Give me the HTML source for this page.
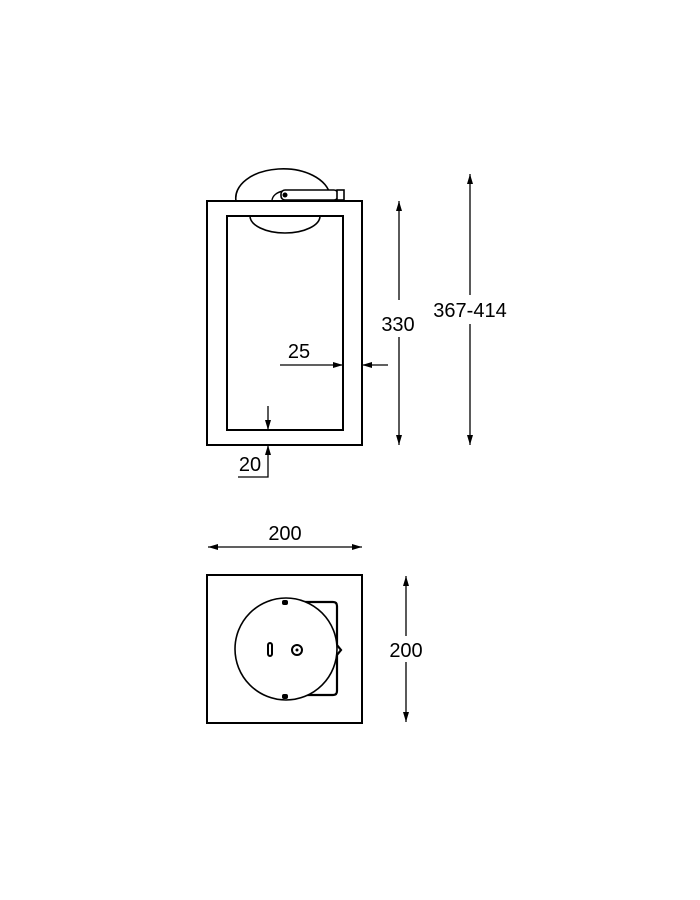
<!DOCTYPE html>
<html><head><style>body{margin:0;background:#fff}svg{display:block}</style></head>
<body>
<svg width="700" height="900" viewBox="0 0 700 900" xmlns="http://www.w3.org/2000/svg" font-family="Liberation Sans, sans-serif" font-size="20" fill="none" stroke="#000">
<defs>
<marker id="a" viewBox="0 0 10 6" refX="10" refY="3" markerWidth="10" markerHeight="6" orient="auto-start-reverse" markerUnits="userSpaceOnUse"><path d="M0,0 L10,3 L0,6 z" fill="#000" stroke="none"/></marker>
</defs>
<!-- top lamp head -->
<path d="M236,201 A47,29 0 0 1 330,195" stroke-width="1.6"/>
<path d="M250,216 A35,17 0 0 0 320,216" stroke-width="1.6"/>
<path d="M272,201 A14,10 0 0 1 284,191" stroke-width="1.4"/>
<rect x="281" y="190" width="57" height="10" rx="4" fill="#fff" stroke-width="1.6"/>
<rect x="337" y="190" width="7" height="10" fill="#fff" stroke-width="1.6"/>
<circle cx="285" cy="195" r="2.5" fill="#000" stroke="none"/>
<!-- front frame -->
<rect x="207" y="201" width="155" height="244" stroke-width="2" fill="none"/>
<rect x="227" y="216" width="116" height="214" stroke-width="2" fill="none"/>
<!-- 25 dim -->
<line x1="280" y1="365" x2="343" y2="365" stroke-width="1.3" marker-end="url(#a)"/>
<line x1="388" y1="365" x2="362" y2="365" stroke-width="1.3" marker-end="url(#a)"/>
<text x="299" y="358" text-anchor="middle" fill="#000" stroke="none">25</text>
<!-- 20 dim -->
<line x1="268" y1="406" x2="268" y2="430" stroke-width="1.3" marker-end="url(#a)"/>
<polyline points="238,477 268,477 268,445" stroke-width="1.3" marker-end="url(#a)"/>
<text x="250" y="471" text-anchor="middle" fill="#000" stroke="none">20</text>
<!-- 330 -->
<line x1="399" y1="300" x2="399" y2="201" stroke-width="1.3" marker-end="url(#a)"/>
<line x1="399" y1="337" x2="399" y2="445" stroke-width="1.3" marker-end="url(#a)"/>
<text x="398" y="331" text-anchor="middle" fill="#000" stroke="none">330</text>
<!-- 367-414 -->
<line x1="470" y1="295" x2="470" y2="174" stroke-width="1.3" marker-end="url(#a)"/>
<line x1="470" y1="324" x2="470" y2="445" stroke-width="1.3" marker-end="url(#a)"/>
<text x="470" y="317" text-anchor="middle" fill="#000" stroke="none">367-414</text>
<!-- 200 horizontal -->
<line x1="208" y1="547" x2="362" y2="547" stroke-width="1.3" marker-start="url(#a)" marker-end="url(#a)"/>
<text x="285" y="540" text-anchor="middle" fill="#000" stroke="none">200</text>
<!-- top view -->
<rect x="207" y="575" width="155" height="148" stroke-width="2"/>
<path d="M284,602 L333,602 Q337,602 337,606 L337,645 L341,650 L337,655 L337,691 Q337,695 333,695 L284,695" stroke-width="2.2"/>
<circle cx="286" cy="649" r="51" stroke-width="1.6" fill="#fff"/>
<rect x="282" y="600" width="6" height="5" fill="#000" stroke="none" rx="2"/>
<rect x="282" y="694" width="6" height="5" fill="#000" stroke="none" rx="2"/>
<circle cx="297" cy="650" r="5" stroke-width="2"/>
<circle cx="297" cy="650" r="1.5" fill="#000" stroke="none"/>
<rect x="268" y="643" width="4" height="13" rx="2" stroke-width="2"/>
<!-- 200 vertical -->
<line x1="406" y1="576" x2="406" y2="722" stroke-width="1.3" marker-start="url(#a)" marker-end="url(#a)"/>
<rect x="386" y="636" width="40" height="26" fill="#fff" stroke="none"/>
<text x="406" y="657" text-anchor="middle" fill="#000" stroke="none">200</text>
</svg>
</body></html>
